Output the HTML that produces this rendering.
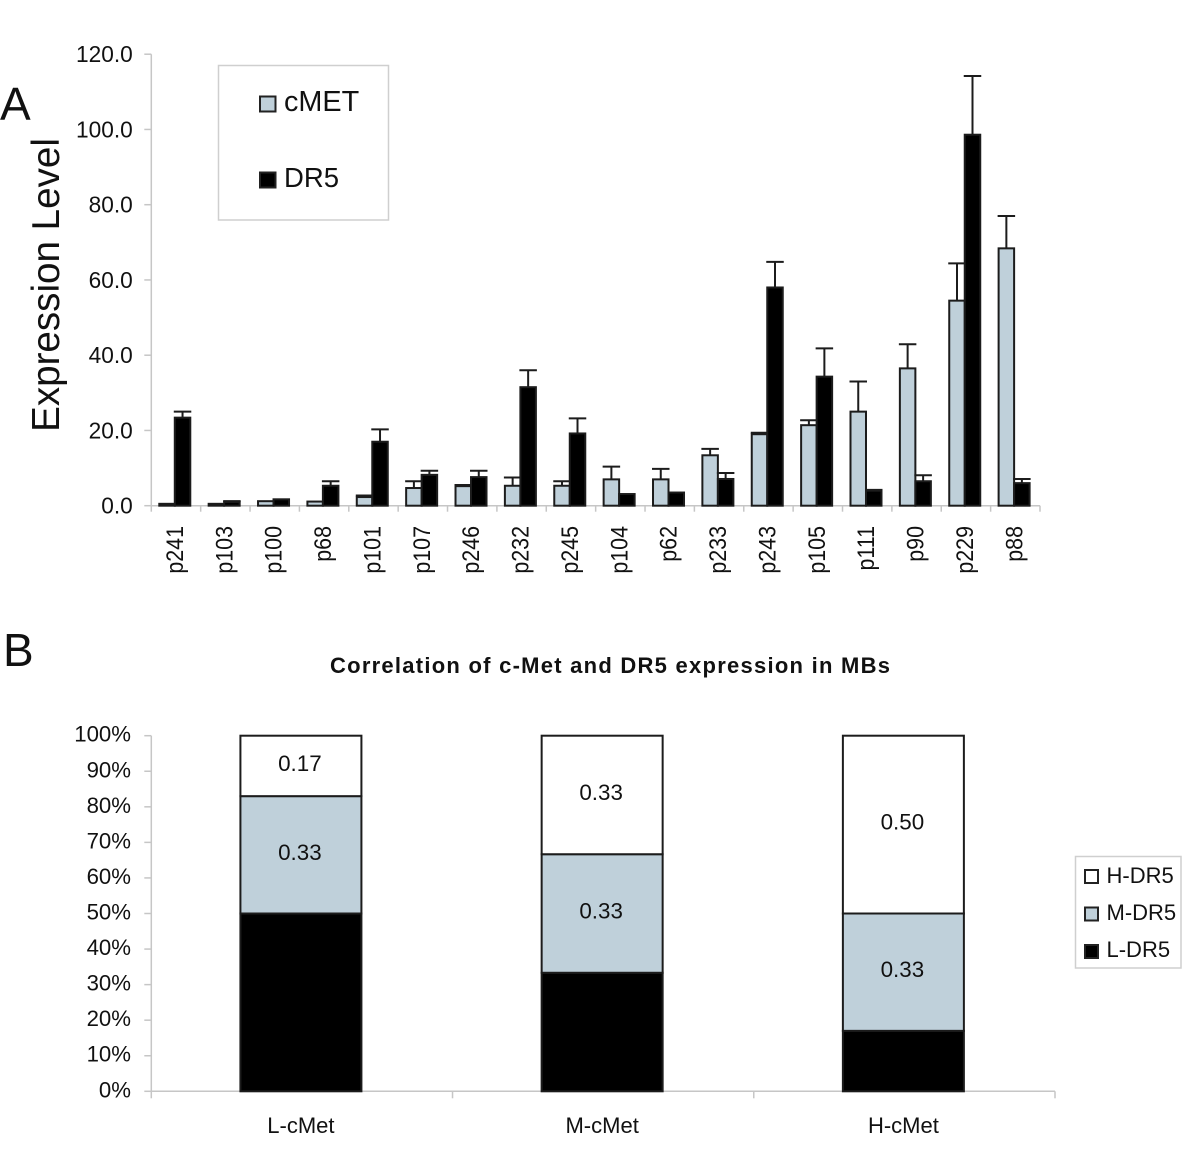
<!DOCTYPE html>
<html lang="en">
<head>
<meta charset="utf-8">
<title>cMET and DR5 expression</title>
<style>
html,body{margin:0;padding:0;background:#fff;}
svg{display:block;font-family:"Liberation Sans",Arial,sans-serif;fill:#111;filter:blur(0.35px);}
</style>
</head>
<body>
<svg id="figure" width="1200" height="1174" viewBox="0 0 1200 1174" xmlns="http://www.w3.org/2000/svg">
  <rect x="0" y="0" width="1200" height="1174" fill="#fff"/>
  <text x="0" y="120" font-size="46">A</text>
  <text x="3" y="666" font-size="46">B</text>
  <text transform="translate(59 285) rotate(-90)" text-anchor="middle" font-size="38.6">Expression Level</text>
  <g id="chartA"></g>
  <g>
    <rect x="218.5" y="65.5" width="170" height="154.5" fill="#fff" stroke="#cfcfcf" stroke-width="1.5"/>
    <rect x="260" y="96.5" width="15.5" height="15" fill="#bfd0da" stroke="#222" stroke-width="2"/>
    <text x="284" y="111" font-size="28.8">cMET</text>
    <rect x="260" y="172.5" width="15.5" height="15" fill="#000" stroke="#222" stroke-width="2"/>
    <text x="284" y="187" font-size="27.5">DR5</text>
  </g>
  <text x="330" y="673" font-size="22" font-weight="bold" textLength="560" lengthAdjust="spacing">Correlation of c-Met and DR5 expression in MBs</text>
  <g id="chartB"></g>
  <g>
    <rect x="1075.5" y="856.5" width="105.5" height="111.5" fill="#fff" stroke="#cfcfcf" stroke-width="1.5"/>
    <rect x="1085" y="870" width="13" height="13" fill="#fff" stroke="#222" stroke-width="2"/>
    <text x="1106.5" y="883" font-size="22">H-DR5</text>
    <rect x="1085" y="907.5" width="13" height="13" fill="#bfd0da" stroke="#222" stroke-width="2"/>
    <text x="1106.5" y="920" font-size="22">M-DR5</text>
    <rect x="1085" y="945" width="13" height="13" fill="#000" stroke="#222" stroke-width="2"/>
    <text x="1106.5" y="957" font-size="22">L-DR5</text>
  </g>
</svg>
<script>
var samples = ['p241','p103','p100','p68','p101','p107','p246','p232','p245','p104','p62','p233','p243','p105','p111','p90','p229','p88'];
var cmetValues = [0.5,0.5,1.2,1.1,2.3,4.7,5.2,5.3,5.3,7.0,7.0,13.4,19.0,21.4,25.0,36.5,54.5,68.4];
var cmetErrors = [0,0,0,0,0.4,1.8,0.3,2.2,1.2,3.4,2.8,1.7,0.4,1.3,8.0,6.4,9.9,8.6];
var dr5Values = [23.4,1.0,1.7,5.3,17.0,8.2,7.6,31.5,19.2,3.1,3.5,7.1,58.0,34.3,4.0,6.5,98.6,6.0];
var dr5Errors = [1.6,0.2,0,1.2,3.3,1.1,1.7,4.5,4.0,0,0,1.6,6.8,7.5,0.2,1.6,15.6,1.1];
var expressionTicks = [0,20,40,60,80,100,120];
var expressionTickLabels = ['0.0','20.0','40.0','60.0','80.0','100.0','120.0'];

var cmetGroups = ['L-cMet','M-cMet','H-cMet'];
var lowDr5 = [0.50,0.33,0.17];
var midDr5 = [0.33,0.33,0.33];
var highDr5 = [0.17,0.33,0.50];
var percentTicks = [0,10,20,30,40,50,60,70,80,90,100];

var NS = 'http://www.w3.org/2000/svg';
var AXIS = '#c6c6c6';
var BLUE = '#bfd0da';
var INK = '#1c1c1c';

function make(parent, tag, attrs, text) {
  var el = document.createElementNS(NS, tag);
  for (var k in attrs) el.setAttribute(k, attrs[k]);
  if (text !== undefined) el.textContent = text;
  parent.appendChild(el);
  return el;
}
function slug(s) { return String(s).toLowerCase().replace(/[^a-z0-9]+/g, '-'); }

/* Panel A */
var gA = document.getElementById('chartA');
var aLeft = 151.3, aRight = 1040, aTop = 54.2, aBase = 505.7, aMax = 120;
function yA(v) { return aBase - (v / aMax) * (aBase - aTop); }
function xA(i) { return aLeft + (aRight - aLeft) * i / samples.length; }
var barW = 15.5;

var axisAY = make(gA, 'line', {x1:aLeft, x2:aLeft, y1:aTop, y2:aBase, stroke:AXIS, 'stroke-width':1.5});


var axisAX = make(gA, 'line', {x1:aLeft, x2:aRight, y1:aBase, y2:aBase, stroke:AXIS, 'stroke-width':1.5});



expressionTicks.forEach(function (t, i) {
  var y = yA(t);
  var tick = make(gA, 'line', {x1:aLeft - 7, x2:aLeft, y1:y, y2:y, stroke:AXIS, 'stroke-width':1.5});
  
  
  var label = make(gA, 'text', {x:132.8, y:y + 8, 'text-anchor':'end', 'font-size':22.7}, expressionTickLabels[i]);
  
  
});

for (var n = 0; n <= samples.length; n++) {
  var xt = xA(n);
  var xTick = make(gA, 'line', {x1:xt, x2:xt, y1:aBase, y2:aBase + 6, stroke:AXIS, 'stroke-width':1.5});
  
  
}

function drawBar(cx, value, err, fill, name) {
  var top = yA(value);
  if (err > 0) {
    var ey = yA(value + err);
    var stem = make(gA, 'line', {x1:cx, x2:cx, y1:top, y2:ey, stroke:INK, 'stroke-width':2});
    
    
    var cap = make(gA, 'line', {x1:cx - barW / 2 - 1, x2:cx + barW / 2 + 1, y1:ey, y2:ey, stroke:INK, 'stroke-width':2});
    
    
  }
  var bar = make(gA, 'rect', {x:cx - barW / 2, y:top, width:barW, height:aBase - top, fill:fill, stroke:INK, 'stroke-width':2});
  
  
}

samples.forEach(function (s, i) {
  var center = xA(i + 0.5);
  drawBar(center - 1.2 - barW / 2, cmetValues[i], cmetErrors[i], BLUE, 'cmet-' + s);
});
samples.forEach(function (s, i) {
  var center = xA(i + 0.5);
  drawBar(center - 1.2 + barW / 2, dr5Values[i], dr5Errors[i], '#000', 'dr5-' + s);
  var lx = center + 7;
  var label = make(gA, 'text', {transform:'translate(' + lx + ' 526) rotate(-90) scale(0.875 1)', 'text-anchor':'end', 'font-size':24.5}, s);
  
  
});

/* Panel B */
var gB = document.getElementById('chartB');
var bLeft = 151.3, bRight = 1055, bTop = 735.7, bBase = 1091.3;
function yB(fraction) { return bBase - fraction * (bBase - bTop); }
function xB(i) { return bLeft + (bRight - bLeft) * i / cmetGroups.length; }
var stackW = 121;

var axisBY = make(gB, 'line', {x1:bLeft, x2:bLeft, y1:bTop, y2:bBase, stroke:AXIS, 'stroke-width':1.5});


var axisBX = make(gB, 'line', {x1:bLeft, x2:bRight, y1:bBase, y2:bBase, stroke:AXIS, 'stroke-width':1.5});



percentTicks.forEach(function (p) {
  var y = yB(p / 100);
  var tick = make(gB, 'line', {x1:bLeft - 7, x2:bLeft, y1:y, y2:y, stroke:AXIS, 'stroke-width':1.5});
  
  
  var label = make(gB, 'text', {x:131, y:y + 6, 'text-anchor':'end', 'font-size':22.2}, p + '%');
  
  
});

for (var m = 0; m <= cmetGroups.length; m++) {
  var bxt = xB(m);
  var bTick = make(gB, 'line', {x1:bxt, x2:bxt, y1:bBase, y2:bBase + 7, stroke:AXIS, 'stroke-width':1.5});
  
  
}

function drawSegment(cx, from, to, fill, name, printed) {
  var y1 = yB(to), y0 = yB(from);
  var seg = make(gB, 'rect', {x:cx - stackW / 2, y:y1, width:stackW, height:y0 - y1, fill:fill, stroke:INK, 'stroke-width':2});
  
  
  if (printed !== null) {
    var label = make(gB, 'text', {x:cx - 1, y:(y0 + y1) / 2 + 5, 'text-anchor':'middle', 'font-size':22.4}, printed.toFixed(2));
    
    
  }
}

cmetGroups.forEach(function (g, i) {
  var cx = xB(i + 0.5) - 1;
  var total = lowDr5[i] + midDr5[i] + highDr5[i];
  var a = lowDr5[i] / total;
  var b = a + midDr5[i] / total;
  drawSegment(cx, 0, a, '#000', 'l-dr5-' + slug(g), null);
  drawSegment(cx, a, b, BLUE, 'm-dr5-' + slug(g), midDr5[i]);
  drawSegment(cx, b, 1, '#fff', 'h-dr5-' + slug(g), highDr5[i]);
  var label = make(gB, 'text', {x:cx, y:1133, 'text-anchor':'middle', 'font-size':22}, g);
  
  
});
</script>
</body>
</html>
